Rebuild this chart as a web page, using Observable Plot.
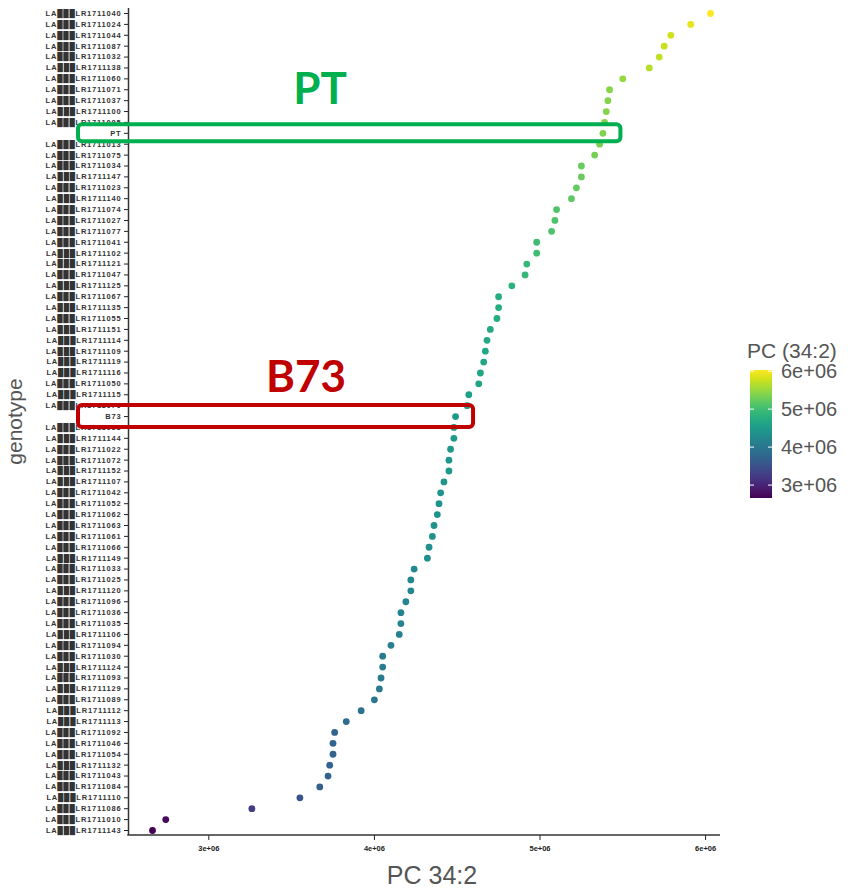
<!DOCTYPE html>
<html><head><meta charset="utf-8">
<script src="https://cdn.jsdelivr.net/npm/d3@7"></script>
<script src="https://cdn.jsdelivr.net/npm/@observablehq/plot@0.6"></script>
<style>body{margin:0;background:#fff}#chart{width:860px;height:888px}</style>
</head><body><div id="chart"></div>
<script>
// genotypes, top to bottom
const genotypes = [
"LA███LR1711040","LA███LR1711024","LA███LR1711044","LA███LR1711087","LA███LR1711032",
"LA███LR1711138","LA███LR1711060","LA███LR1711071","LA███LR1711037","LA███LR1711100",
"LA███LR1711095","PT","LA███LR1711013","LA███LR1711075","LA███LR1711034",
"LA███LR1711147","LA███LR1711023","LA███LR1711140","LA███LR1711074","LA███LR1711027",
"LA███LR1711077","LA███LR1711041","LA███LR1711102","LA███LR1711121","LA███LR1711047",
"LA███LR1711125","LA███LR1711067","LA███LR1711135","LA███LR1711055","LA███LR1711151",
"LA███LR1711114","LA███LR1711109","LA███LR1711119","LA███LR1711116","LA███LR1711050",
"LA███LR1711115","LA███LR1711070","B73","LA███LR1711053","LA███LR1711144",
"LA███LR1711022","LA███LR1711072","LA███LR1711152","LA███LR1711107","LA███LR1711042",
"LA███LR1711052","LA███LR1711062","LA███LR1711063","LA███LR1711061","LA███LR1711066",
"LA███LR1711149","LA███LR1711033","LA███LR1711025","LA███LR1711120","LA███LR1711096",
"LA███LR1711036","LA███LR1711035","LA███LR1711106","LA███LR1711094","LA███LR1711030",
"LA███LR1711124","LA███LR1711093","LA███LR1711129","LA███LR1711089","LA███LR1711112",
"LA███LR1711113","LA███LR1711092","LA███LR1711046","LA███LR1711054","LA███LR1711132",
"LA███LR1711043","LA███LR1711084","LA███LR1711110","LA███LR1711086","LA███LR1711010",
"LA███LR1711143"
];
// PC 34:2 values, same order
const pc342 = [
6.03e6,5.91e6,5.79e6,5.75e6,5.72e6,5.66e6,5.50e6,5.42e6,5.41e6,5.40e6,
5.39e6,5.38e6,5.36e6,5.33e6,5.25e6,5.25e6,5.22e6,5.19e6,5.10e6,5.09e6,
5.07e6,4.98e6,4.98e6,4.92e6,4.91e6,4.83e6,4.75e6,4.75e6,4.74e6,4.70e6,
4.68e6,4.67e6,4.66e6,4.64e6,4.63e6,4.57e6,4.56e6,4.49e6,4.48e6,4.48e6,
4.46e6,4.45e6,4.45e6,4.42e6,4.40e6,4.39e6,4.38e6,4.36e6,4.35e6,4.33e6,
4.32e6,4.24e6,4.22e6,4.22e6,4.19e6,4.16e6,4.16e6,4.15e6,4.10e6,4.05e6,
4.05e6,4.04e6,4.03e6,4.00e6,3.92e6,3.83e6,3.76e6,3.75e6,3.75e6,3.73e6,
3.72e6,3.67e6,3.55e6,3.26e6,2.74e6,2.66e6
];
const xDomain = [2.515e6, 6.09e6];
const xTicks = [3e6, 4e6, 5e6, 6e6];
const legendTicks = [3e6, 4e6, 5e6, 6e6];
const xTitle = "PC 34:2";
const yTitle = "genotype";
const legendTitle = "PC (34:2)";
const highlightNames = ["PT", "B73"];
const highlightColors = ["#00b050", "#c00000"];

const data = genotypes.map((g, i) => ({genotype: g, value: pc342[i]}));
const fmt = d => d.toExponential(0).replace("e+", "e+0");

const W = 860, H = 888, mL = 128, mR = 140, mT = 8, mB = 53;

const plot = Plot.plot({
  width: W, height: H,
  marginLeft: mL, marginRight: mR, marginTop: mT, marginBottom: mB,
  style: {fontFamily: "'Liberation Sans', Arial, sans-serif", background: "white", color: "#222", overflow: "visible"},
  x: {domain: xDomain, label: null},
  y: {type: "point", domain: genotypes, range: [13, 830], padding: 0, label: null},
  color: {type: "linear", scheme: "viridis", domain: d3.extent(pc342)},
  marks: [
    Plot.axisX({ticks: xTicks, tickFormat: fmt, tickSize: 5, tickPadding: 5, fontSize: 7.5, fontWeight: "bold", label: null}),
    Plot.axisY({tickSize: 4, tickPadding: 3, fontSize: 7.5, fontWeight: "bold", label: null}),
    Plot.ruleX([xDomain[0]], {stroke: "#333", strokeWidth: 1.5}),
    Plot.dot(data, {x: "value", y: "genotype", fill: "value", r: 3.4})
  ]
});
document.getElementById("chart").appendChild(plot);

const svg = d3.select(plot);
const xs = plot.scale("x"), ys = plot.scale("y"), cs = plot.scale("color");
svg.selectAll('[aria-label="y-axis tick label"] text').style("letter-spacing", "0.8px").attr("fill", "#333");

// bottom axis line
svg.append("line")
  .attr("x1", xs.apply(xDomain[0]) - 0.75).attr("x2", xs.apply(xDomain[1]))
  .attr("y1", H - mB).attr("y2", H - mB)
  .attr("stroke", "#333").attr("stroke-width", 1.5);

// axis titles
svg.append("text").text(xTitle)
  .attr("x", 432).attr("y", 884).attr("text-anchor", "middle")
  .attr("font-size", 25).attr("fill", "#555");
svg.append("text").text(yTitle)
  .attr("transform", `translate(22,${(13 + 830) / 2}) rotate(-90)`)
  .attr("text-anchor", "middle").attr("font-size", 21).attr("fill", "#555");

// highlight boxes and labels
highlightNames.forEach((name, i) => {
  const row = data.find(d => d.genotype === name);
  const cy = ys.apply(name);
  const cx = xs.apply(row.value);
  const half = name === "PT" ? 8.5 : 11;
  svg.append("rect")
    .attr("x", mL - 50).attr("y", cy - half)
    .attr("width", cx + 18 - (mL - 50)).attr("height", half * 2)
    .attr("rx", 4).attr("fill", "none")
    .attr("stroke", highlightColors[i]).attr("stroke-width", 4);
  svg.append("text").text(name)
    .attr("x", name === "PT" ? 320 : 306)
    .attr("y", cy - (name === "PT" ? 29 : 24))
    .attr("text-anchor", "middle")
    .attr("font-family", "Lato, 'Open Sans', sans-serif")
    .attr("font-weight", 700).attr("font-size", 44)
    .attr("fill", highlightColors[i]);
});

// colour legend
const cd = cs.domain;
const barX = 750, barW = 22, barTop = 370, barBot = 498;
const ly = d3.scaleLinear().domain(cd).range([barBot, barTop]);
const defs = svg.append("defs");
const grad = defs.append("linearGradient").attr("id", "cbar")
  .attr("x1", 0).attr("y1", 1).attr("x2", 0).attr("y2", 0);
d3.ticks(cd[0], cd[1], 20).concat(cd).sort(d3.ascending).forEach(v => {
  grad.append("stop").attr("offset", (v - cd[0]) / (cd[1] - cd[0])).attr("stop-color", cs.apply(v));
});
svg.append("text").text(legendTitle)
  .attr("x", 747).attr("y", 358).attr("text-anchor", "start")
  .attr("font-size", 21).attr("fill", "#555");
svg.append("rect").attr("x", barX).attr("y", barTop).attr("width", barW).attr("height", barBot - barTop)
  .attr("fill", "url(#cbar)");
legendTicks.forEach(t => {
  const y = ly(t);
  svg.append("line").attr("x1", barX).attr("x2", barX + 4).attr("y1", y).attr("y2", y)
    .attr("stroke", "white").attr("stroke-width", 1);
  svg.append("line").attr("x1", barX + barW - 4).attr("x2", barX + barW).attr("y1", y).attr("y2", y)
    .attr("stroke", "white").attr("stroke-width", 1);
  svg.append("text").text(fmt(t)).attr("x", 781).attr("y", y).attr("dy", "0.35em")
    .attr("text-anchor", "start")
    .attr("font-size", 20).attr("fill", "#555");
});
</script>
</body></html>
